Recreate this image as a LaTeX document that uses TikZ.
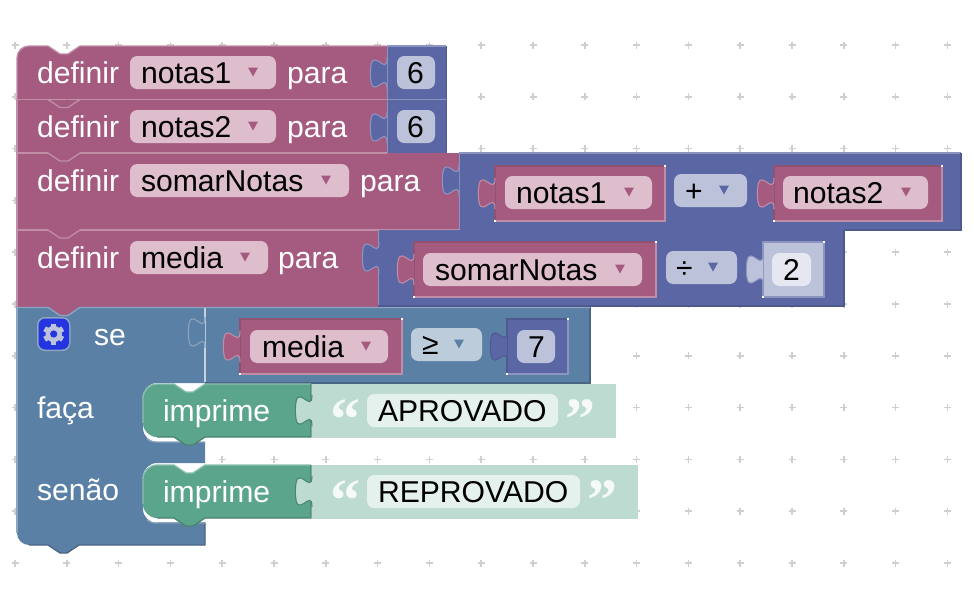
\documentclass[tikz,border=0pt]{standalone}
\usepackage{fontspec}
\setmainfont{Liberation Sans}
\newfontfamily\qfont{Liberation Serif}
\definecolor{pk}{HTML}{A55B80}
\definecolor{pkL}{HTML}{C08DA6}
\definecolor{pkD}{HTML}{8F5270}
\definecolor{pkP}{HTML}{DEBDCC}
\definecolor{bl}{HTML}{5B67A5}
\definecolor{blL}{HTML}{8C95C0}
\definecolor{blD}{HTML}{4E5990}
\definecolor{blP}{HTML}{BDC2DB}
\definecolor{blS}{HTML}{BDC2DB}
\definecolor{blSP}{HTML}{E5E7F1}
\definecolor{lg}{HTML}{5B80A5}
\definecolor{lgL}{HTML}{8CA6C0}
\definecolor{lgD}{HTML}{496684}
\definecolor{lgP}{HTML}{BDCCDB}
\definecolor{gr}{HTML}{5BA58C}
\definecolor{grL}{HTML}{8CC0AE}
\definecolor{grD}{HTML}{498470}
\definecolor{st}{HTML}{BDDBD1}
\definecolor{stP}{HTML}{E5F1ED}
\definecolor{gridc}{HTML}{CFCFCF}
\definecolor{gearbg}{HTML}{2434E0}
\tikzset{
  txt/.style={anchor=base west,inner sep=0pt,outer sep=0pt,font=\fontsize{22.6}{26}\selectfont,text=#1},
  edge/.style={line width=1pt,#1},
  pics/tabp/.style n args={2}{code={
    \fill[#1] (0,31) .. controls (0,10.3) and (-16.6,47.6) .. (-16.6,15.5)
       .. controls (-16.6,-16.6) and (0,20.7) .. (0,0) -- cycle;
    \draw[#2,line width=.8pt] (0,31) .. controls (0,10.3) and (-16.6,47.6) .. (-16.6,15.5)
       .. controls (-16.6,-16.6) and (0,20.7) .. (0,0);
  }},
  pics/ddarrow/.style={code={\fill[#1] (-5,-4.5) -- (5,-4.5) -- (0,4.5) -- cycle;}},
}
\newcommand{\pillbox}[5]{\fill[#5,rounded corners=5.5pt] (#1,#2) rectangle (#3,#4);}
\newcommand{\inset}[7]{%
  \fill[#5] (#1,#2) rectangle (#3,#4);
  \draw[edge=#7] (#1,#4) -- (#1,#2) -- (#3,#2);
  \draw[edge=#6] (#3,#2) -- (#3,#4) -- (#1,#4);
  \fill[white] (#3-1,#2-1) rectangle (#3+1,#2+1);
  \fill[white] (#1-1,#4-1) rectangle (#1+1,#4+1);
}
\newcommand{\chev}[2]{\draw[edge=#2] (48,#1) -- (60,#1+8) -- (68,#1+8) -- (80,#1);}
\begin{document}
\begin{tikzpicture}[x=0.75pt,y=-0.75pt]
\useasboundingbox (0,0) rectangle (974,607);
\fill[white] (0,0) rectangle (974,607);
% grid
\foreach \i in {0,...,18}{\foreach \j in {0,...,10}{
  \draw[gridc,line width=1.1pt] ({15+51.8*\i-3.5},{45+51.8*\j}) -- ({15+51.8*\i+3.5},{45+51.8*\j});
  \draw[gridc,line width=1.1pt] ({15+51.8*\i},{45+51.8*\j-3.5}) -- ({15+51.8*\i},{45+51.8*\j+3.5});
}}
% --- logic block (se)
\fill[lg] (17,307) -- (590,307) -- (590,383) -- (157,383) .. controls (149.3,383) and (143,389.3) .. (143,397)
  -- (143,428) .. controls (143,435.7) and (149.3,442) .. (157,442)
  -- (205,442) -- (205,463) -- (157,463) .. controls (149.3,463) and (143,469.3) .. (143,477)
  -- (143,509) .. controls (143,516.7) and (149.3,523) .. (157,523)
  -- (205,523) -- (205,545) -- (79,545) -- (67,553) -- (60,553) -- (48,545) -- (29,545)
  .. controls (22.4,545) and (17,539.6) .. (17,533) -- cycle;
\draw[edge=lgL] (17,533) -- (17,307);
\draw[edge=lgD] (29,545) -- (48,545) -- (60,553) -- (67,553) -- (79,545) -- (205,545) -- (205,523) -- (157,523);
\draw[edge=lgD] (205,383) -- (590,383) -- (590,307);
\draw[edge=lgL] (147,439) .. controls (150,441) and (153,442) .. (157,442) -- (205,442);
\draw[edge=lgL] (147,520) .. controls (150,522) and (153,523) .. (157,523) -- (205,523);
\draw[lgL!50!white,line width=.9pt] (205,307) -- (205,382);
\pic at (205,317) {tabp={lg}{lgL}};
% --- pink definir blocks
\fill[pk] (29,46) -- (48,46) -- (60,54) -- (68,54) -- (80,46) -- (387,46) -- (387,99.5) -- (17,99.5) -- (17,58) .. controls (17,51.4) and (22.4,46) .. (29,46) -- cycle;
\fill[pk] (17,99.5) rectangle (387,153);
\fill[pk] (17,153) rectangle (459,230);
\fill[pk] (17,230) rectangle (378,307);
\fill[pk] (48,306) -- (80,306) -- (68,315) -- (60,315) -- cycle;
\draw[edge=pkL] (17,99) -- (17,58) .. controls (17,51.4) and (22.4,46) .. (29,46) -- (48,46) -- (60,54) -- (68,54) -- (80,46) -- (386,46);
\draw[edge=pkL] (17,99.5) -- (48,99.5) (80,99.5) -- (387,99.5);
\draw[edge=pkL] (17,153) -- (48,153) (80,153) -- (387,153);
\draw[edge=pkL] (17,230) -- (48,230) (80,230) -- (459,230);
\chev{99.5}{pkL}\chev{153}{pkL}\chev{230}{pkL}
\draw[edge=pkL] (17,99) -- (17,307);
\draw[edge=lgL] (17,307.5) -- (48,307.5) -- (60,315.5) -- (68,315.5) -- (80,307.5) -- (590,307.5);
% --- math blocks attached to definir
\fill[bl] (387,46) rectangle (447,99.5);
\fill[bl] (387,99.5) rectangle (447,153);
\fill[bl] (459,153) rectangle (961,230);
\fill[bl] (378,230) rectangle (844,306);
\draw[edge=blL] (387,46) -- (446,46);
\draw[edge=blD] (446.5,46) -- (446.5,98);
\draw[edge=blL] (387,99.5) -- (446,99.5);
\draw[edge=blD] (446.5,100) -- (446.5,152);
\draw[edge=blL] (459,153) -- (961,153);
\draw[edge=blD] (961,153) -- (961,230) -- (844,230);
\draw[edge=blL] (459.5,153) -- (459.5,230);
\draw[edge=blL] (378.5,230) -- (378.5,306);
\draw[edge=blL] (387.5,46) -- (387.5,153);
\draw[edge=blD] (844,230) -- (844,306) -- (378,306);
\pic at (387,58) {tabp={bl}{blL}};
\pic at (387,112) {tabp={bl}{blL}};
\pic at (459,165) {tabp={bl}{blL}};
\pic at (379,242) {tabp={bl}{blL}};
% --- inner value blocks
\inset{495}{166}{665}{221}{pk}{pkL}{pkD}
\pic at (495,178) {tabp={pk}{pkL}};
\inset{774}{166}{942}{221}{pk}{pkL}{pkD}
\pic at (774,178) {tabp={pk}{pkL}};
\inset{414}{242}{656}{297}{pk}{pkL}{pkD}
\pic at (414,254) {tabp={pk}{pkL}};
\inset{763}{242}{824}{297}{blS}{blL}{blL}
\pic at (763,254) {tabp={blS}{blL}};
\inset{240}{319}{402}{374}{pk}{pkL}{pkD}
\pic at (240,331) {tabp={pk}{pkL}};
\inset{507}{319}{568}{374}{bl}{blL}{blD}
\pic at (507,331) {tabp={bl}{blD}};
% --- pills
\pillbox{130}{56}{276}{89}{pkP}
\pillbox{130}{110}{276}{143}{pkP}
\pillbox{130}{164}{349}{197}{pkP}
\pillbox{130}{241}{268}{274}{pkP}
\pillbox{397}{56}{435}{89}{blP}
\pillbox{397}{110}{435}{143}{blP}
\pillbox{505}{176}{652}{209}{pkP}
\pillbox{783}{176}{928}{209}{pkP}
\pillbox{674}{174}{747}{207}{blP}
\pillbox{423}{253}{642}{286}{pkP}
\pillbox{666}{251}{737}{284}{blP}
\pillbox{772}{253}{811}{286}{blSP}
\pillbox{250}{330}{388}{363}{pkP}
\pillbox{411}{328}{482}{361}{lgP}
\pillbox{517}{330}{555}{363}{blP}
% dropdown arrows
\foreach \p in {(253,72),(253,126),(326,180),(245,257),(629,192),(906,192),(620,269),(366,346)}{\pic at \p {ddarrow=pk};}
\foreach \p in {(724,190),(713,267)}{\pic at \p {ddarrow=bl};}
\pic at (459,344) {ddarrow=lg};
% --- green statements
\foreach \yy in {384,465}{
\begin{scope}[yshift={-0.75pt*\yy}]
\fill[gr] (157,0) -- (174,0) -- (186,8) -- (193,8) -- (205,0) -- (311,0) -- (311,53) -- (205,53) -- (193,61) -- (186,61) -- (174,53) -- (157,53) .. controls (149.3,53) and (143,46.7) .. (143,39) -- (143,14) .. controls (143,6.3) and (149.3,0) .. (157,0) -- cycle;
\draw[edge=grL] (143,39) -- (143,14) .. controls (143,6.3) and (149.3,0) .. (157,0) -- (174,0) -- (186,8) -- (193,8) -- (205,0) -- (311,0);
\draw[edge=grD] (157,53) -- (174,53) -- (186,61) -- (193,61) -- (205,53) -- (311,53) -- (311,0);
\end{scope}}
\fill[st] (312,384) rectangle (616,438);
\fill[st] (312,465) rectangle (638,518.5);
\pic at (312,395) {tabp={st}{grD}};
\pic at (312,476) {tabp={st}{grD}};
\pillbox{367}{394}{558}{427}{stP}
\pillbox{367}{475}{580}{508}{stP}
% gear button
\fill[lgL,rounded corners=6pt] (37,317) rectangle (70.5,351);
\fill[gearbg,rounded corners=5.2pt] (38.5,318.5) rectangle (69,349.5);
\foreach \a in {0,60,...,300}{
  \fill[blP,rotate around={\a:(53.7,334)}] (51,323.5) rectangle (56.4,330);
}
\fill[blP] (53.7,334) circle (8.2);
\fill[gearbg] (53.7,334) circle (3.6);
% --- text
\node[txt=white] (d1) at (37,83) {definir};
\node[txt=black] (v1) at (141,83) {notas1};
\node[txt=white] (p1) at (287,83) {para};
\node[txt=black] (n1) at (407,83) {6};
\node[txt=white] (d2) at (37,137) {definir};
\node[txt=black] (v2) at (141,137) {notas2};
\node[txt=white] (p2) at (287,137) {para};
\node[txt=black] (n2) at (407,137) {6};
\node[txt=white] (d3) at (37,191) {definir};
\node[txt=black] (v3) at (141,191) {somarNotas};
\node[txt=white] (p3) at (360,191) {para};
\node[txt=black] (a1) at (516,203) {notas1};
\node[txt=black] (o1) at (685,201) {+};
\node[txt=black] (a2) at (793,203) {notas2};
\node[txt=white] (d4) at (37,268) {definir};
\node[txt=black] (v4) at (141,268) {media};
\node[txt=white] (p4) at (278,268) {para};
\node[txt=black] (a3) at (435,280) {somarNotas};
\node[txt=black] (o2) at (676,278) {÷};
\node[txt=black] (n3) at (783,280) {2};
\node[txt=white] (se) at (94,345) {se};
\node[txt=black] (a4) at (262,357) {media};
\node[txt=black] (o3) at (422,354) {≥};
\node[txt=black] (n4) at (528,357) {7};
\node[txt=white] (fa) at (37,418) {faça};
\node[txt=white] (i1) at (163,421) {imprime};
\node[txt=black] (s1) at (378,421) {APROVADO};
\node[txt=white] (se2) at (37,500) {senão};
\node[txt=white] (i2) at (163,502) {imprime};
\node[txt=black] (s2) at (378,502) {REPROVADO};
\foreach \nm/\x/\y/\q in {q1/330/439/“,q2/565/439/”,q3/330/520/“,q4/587/520/”}{
  \node[anchor=base west,inner sep=0pt,font=\qfont\bfseries\fontsize{45}{50}\selectfont,text=white!85!st] (\nm) at (\x,\y) {\q};
}
\end{tikzpicture}
\end{document}
